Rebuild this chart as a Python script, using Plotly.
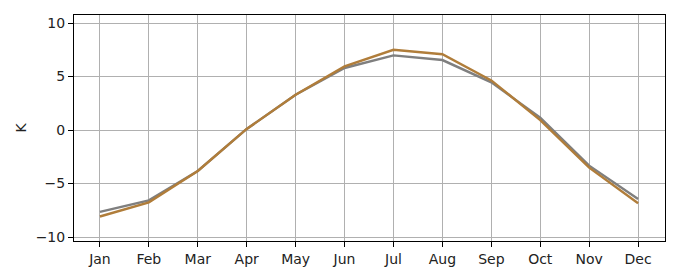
import plotly.graph_objects as go

months = ["Jan", "Feb", "Mar", "Apr", "May", "Jun", "Jul", "Aug", "Sep", "Oct", "Nov", "Dec"]
series_gray = [-7.65, -6.57, -3.83, 0.1, 3.3, 5.8, 6.98, 6.54, 4.46, 1.15, -3.33, -6.45]
series_orange = [-8.08, -6.76, -3.83, 0.1, 3.3, 5.95, 7.5, 7.08, 4.64, 0.93, -3.52, -6.85]
y_ticks = [-10, -5, 0, 5, 10]
y_label = "K"

x = list(range(len(months)))
fig = go.Figure()
fig.add_trace(go.Scatter(x=x, y=series_gray, mode="lines",
                         line=dict(color="#7f7f7f", width=2.4), showlegend=False))
fig.add_trace(go.Scatter(x=x, y=series_orange, mode="lines",
                         line=dict(color="#b07d3a", width=2.4), showlegend=False))

axis_common = dict(showline=True, linecolor="black", linewidth=1, mirror=True,
                   ticks="outside", ticklen=5, tickcolor="black", tickwidth=1,
                   showgrid=True, gridcolor="#b0b0b0", gridwidth=1, zeroline=False,
                   tickfont=dict(family="DejaVu Sans", size=14, color="#222"))
fig.update_xaxes(range=[-0.53, 11.55], tickvals=x, ticktext=months, **axis_common)
fig.update_yaxes(range=[-10.37, 10.75], tickvals=y_ticks,
                 ticktext=["\u221210", "\u22125", "0", "5", "10"],
                 title=dict(text=y_label, font=dict(family="DejaVu Sans", size=14, color="#222"), standoff=5),
                 **axis_common)
fig.update_layout(width=680, height=280, margin=dict(l=74, r=15, t=15, b=39),
                  plot_bgcolor="white", paper_bgcolor="white")
fig.write_html("out.html")
